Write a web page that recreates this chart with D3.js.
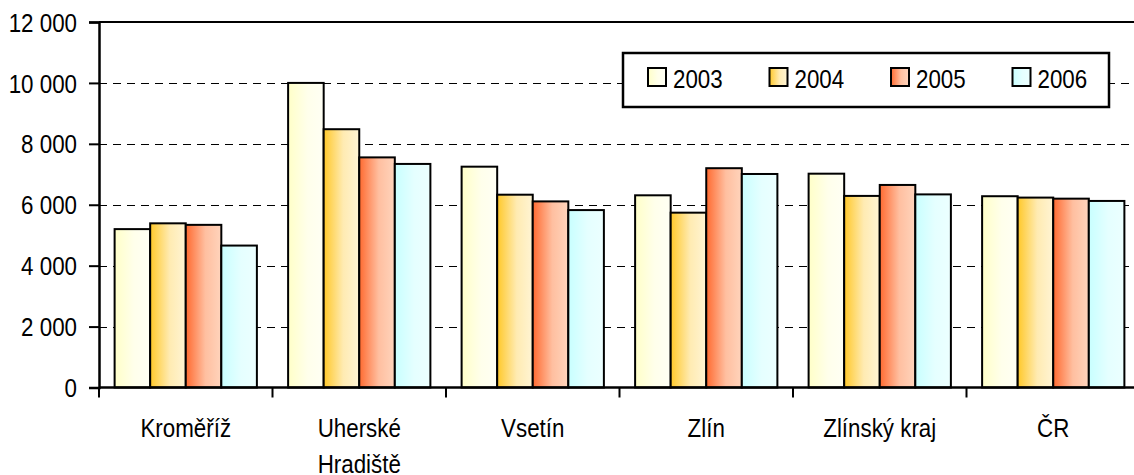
<!DOCTYPE html>
<html>
<head>
<meta charset="utf-8">
<script src="https://cdn.jsdelivr.net/npm/d3@7"></script>
<style>
  html, body { margin: 0; padding: 0; background: #fff; }
  svg text { font-family: "Liberation Sans", Arial, sans-serif; fill: #000; }
</style>
</head>
<body>
<svg id="chart" width="1134" height="475"></svg>
<script>
const categories = ["Kroměříž", "Uherské Hradiště", "Vsetín", "Zlín", "Zlínský kraj", "ČR"];
const categoryLines = [["Kroměříž"], ["Uherské", "Hradiště"], ["Vsetín"], ["Zlín"], ["Zlínský kraj"], ["ČR"]];
const years = ["2003", "2004", "2005", "2006"];
const values2003 = [5200, 10000, 7250, 6310, 7020, 6280];
const values2004 = [5390, 8480, 6330, 5740, 6290, 6235];
const values2005 = [5340, 7555, 6110, 7200, 6650, 6200];
const values2006 = [4660, 7340, 5825, 7010, 6340, 6125];
const yTicks = [0, 2000, 4000, 6000, 8000, 10000, 12000];
const gradientStops = [
  ["#ffffc8", "#fffff4"],
  ["#ffc829", "#fff4d4"],
  ["#ff6a30", "#ffd4bc"],
  ["#c8ffff", "#ecffff"]
];

const series = [values2003, values2004, values2005, values2006];
const svg = d3.select("#chart");
const plotLeft = 99, plotRight = 1140, plotTop = 22, plotBottom = 387.5;
const SX = 0.86; // horizontal condensing of the text (narrow font look)
const FS = 26;

const defs = svg.append("defs");
years.forEach((yr, i) => {
  const g = defs.append("linearGradient").attr("id", "grad" + i)
    .attr("x1", "0%").attr("x2", "100%").attr("y1", "0%").attr("y2", "0%");
  g.append("stop").attr("offset", "0%").attr("stop-color", gradientStops[i][0]);
  g.append("stop").attr("offset", "55%").attr("stop-color", d3.interpolateRgb(gradientStops[i][0], gradientStops[i][1])(0.8));
  g.append("stop").attr("offset", "100%").attr("stop-color", gradientStops[i][1]);
});

const x = d3.scaleBand().domain(categories).range([plotLeft, plotRight]).paddingInner(0.18).paddingOuter(0.09);
const xs = d3.scaleBand().domain(years).range([0, x.bandwidth()]);
const y = d3.scaleLinear().domain([0, 12000]).range([plotBottom, plotTop]);
const fmt = d3.formatLocale({ decimal: ",", thousands: "\u00a0", grouping: [3], currency: ["", ""] }).format(",d");

// gridlines
svg.append("g").selectAll("line").data(yTicks.filter(t => t > 0 && t < 12000)).join("line")
  .attr("x1", plotLeft).attr("x2", plotRight)
  .attr("y1", d => Math.round(y(d)) + 0.5).attr("y2", d => Math.round(y(d)) + 0.5)
  .attr("stroke", "#000").attr("stroke-width", 1.2).attr("stroke-dasharray", "8,6");

// top border
svg.append("line").attr("x1", plotLeft).attr("x2", plotRight).attr("y1", y(12000)).attr("y2", y(12000))
  .attr("stroke", "#000").attr("stroke-width", 2);

// bars
const groups = svg.append("g").selectAll("g").data(categories).join("g")
  .attr("transform", c => `translate(${x(c)},0)`);
groups.selectAll("rect").data((c, ci) => years.map((yr, si) => ({ yr, si, v: series[si][ci] }))).join("rect")
  .attr("x", d => xs(d.yr))
  .attr("y", d => y(d.v))
  .attr("width", xs.bandwidth())
  .attr("height", d => plotBottom - y(d.v))
  .attr("fill", d => `url(#grad${d.si})`)
  .attr("stroke", "#000").attr("stroke-width", 2);

// y axis
const yAxis = d3.axisLeft(y).tickValues(yTicks).tickFormat(fmt).tickSize(10).tickPadding(12);
const ya = svg.append("g").attr("transform", `translate(${plotLeft},0)`).call(yAxis);
ya.select(".domain").attr("stroke", "#000").attr("stroke-width", 2.5);
ya.selectAll(".tick line").attr("stroke", "#000").attr("stroke-width", 2);
ya.selectAll(".tick text")
  .attr("font-size", FS).attr("dy", "0.35em")
  .attr("x", -22 / SX)
  .attr("transform", `scale(${SX},1)`)
  .style("font-family", '"Liberation Sans", Arial, sans-serif');

// x axis baseline + ticks at category boundaries
svg.append("line").attr("x1", plotLeft).attr("x2", plotRight).attr("y1", plotBottom).attr("y2", plotBottom)
  .attr("stroke", "#000").attr("stroke-width", 2.5);
const step = x.step();
svg.append("g").selectAll("line").data(categories).join("line")
  .attr("x1", c => x(c) + x.bandwidth() / 2 - step / 2)
  .attr("x2", c => x(c) + x.bandwidth() / 2 - step / 2)
  .attr("y1", plotBottom).attr("y2", plotBottom + 10)
  .attr("stroke", "#000").attr("stroke-width", 2);

// category labels
const labG = svg.append("g").selectAll("g").data(categories).join("g")
  .attr("transform", c => `translate(${x(c) + x.bandwidth() / 2},437) scale(${SX},1)`);
labG.each(function (c, i) {
  d3.select(this).selectAll("text").data(categoryLines[i]).join("text")
    .attr("x", 0)
    .attr("y", (d, j) => j * 36.5)
    .attr("text-anchor", "middle")
    .attr("font-size", FS)
    .text(d => d);
});

// legend
const lg = svg.append("g");
lg.append("rect").attr("x", 623).attr("y", 53).attr("width", 486).attr("height", 54)
  .attr("fill", "#fff").attr("stroke", "#000").attr("stroke-width", 2.5);
const li = lg.selectAll("g").data(years).join("g")
  .attr("transform", (d, i) => `translate(${648 + i * 121.5},68)`);
li.append("rect").attr("width", 18).attr("height", 18)
  .attr("fill", (d, i) => `url(#grad${i})`).attr("stroke", "#000").attr("stroke-width", 2);
li.append("text").attr("x", 25 / SX).attr("y", 20).attr("font-size", FS)
  .attr("transform", `scale(${SX},1)`).text(d => d);
</script>
</body>
</html>
